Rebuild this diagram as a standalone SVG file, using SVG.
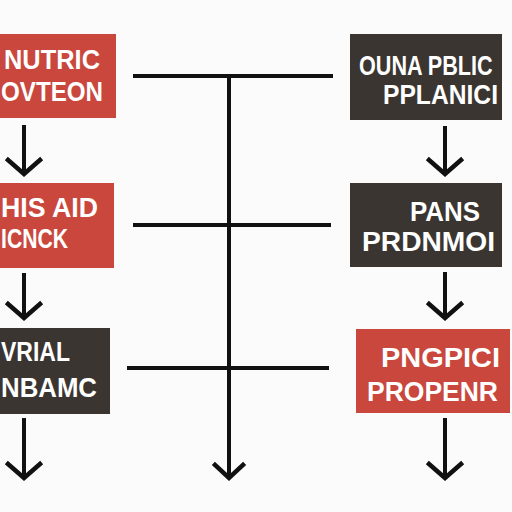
<svg xmlns="http://www.w3.org/2000/svg" width="512" height="512" viewBox="0 0 512 512">
<defs>
<style>
.red{fill:#c9473d}
.dark{fill:#3b3531}
.t{fill:#ffffff;font-family:"Liberation Sans",Arial,sans-serif;font-weight:bold;font-size:27px}
.ln{stroke:#111;stroke-width:4;fill:none}
.ah{stroke:#111;stroke-width:4.5;fill:none;stroke-linecap:square}
</style>
</defs>
<rect width="512" height="512" fill="#fbfbfb"/>
<g id="connectors">
<path class="ln" d="M133 76H333M229 76V478"/>
<path class="ln" d="M133 225H331"/>
<path class="ln" d="M127 368H329"/>
<path class="ah" d="M215 465L229 478L243 465"/>
<path class="ln" d="M24 125V174"/><path class="ah" d="M8 160L24 174L40 160"/>
<path class="ln" d="M24 273V318"/><path class="ah" d="M8 304L24 318L40 304"/>
<path class="ln" d="M24 418V478"/><path class="ah" d="M8 464L24 478L40 464"/>
<path class="ln" d="M445 126V174"/><path class="ah" d="M429 160L445 174L461 160"/>
<path class="ln" d="M445 272V318"/><path class="ah" d="M429 304L445 318L461 304"/>
<path class="ln" d="M445 418V478"/><path class="ah" d="M429 464L445 478L461 464"/>
</g>
<g id="node-l1">
<rect class="red" x="0" y="34" width="116" height="84"/>
<text class="t" x="4" y="69" textLength="96" lengthAdjust="spacingAndGlyphs">NUTRIC</text>
<text class="t" x="1" y="101" textLength="102" lengthAdjust="spacingAndGlyphs">OVTEON</text>
</g>
<g id="node-l2">
<rect class="red" x="0" y="183" width="114" height="85"/>
<text class="t" x="1" y="217" textLength="97" lengthAdjust="spacingAndGlyphs">HIS AID</text>
<text class="t" x="1" y="248" textLength="67" lengthAdjust="spacingAndGlyphs">ICNCK</text>
</g>
<g id="node-l3">
<rect class="dark" x="0" y="328" width="110" height="86"/>
<text class="t" x="1" y="361" textLength="69" lengthAdjust="spacingAndGlyphs">VRIAL</text>
<text class="t" x="1" y="397" textLength="96" lengthAdjust="spacingAndGlyphs">NBAMC</text>
</g>
<g id="node-r1">
<rect class="dark" x="350" y="34" width="152" height="86"/>
<text class="t" transform="translate(359 75) scale(0.8 1)" x="0" y="0">OUNA PBLIC</text>
<text class="t" x="383" y="104" textLength="115" lengthAdjust="spacingAndGlyphs">PPLANICI</text>
</g>
<g id="node-r2">
<rect class="dark" x="350" y="183" width="152" height="84"/>
<text class="t" x="410" y="221" textLength="70" lengthAdjust="spacingAndGlyphs">PANS</text>
<text class="t" x="362" y="251" textLength="133" lengthAdjust="spacingAndGlyphs">PRDNMOI</text>
</g>
<g id="node-r3">
<rect class="red" x="356" y="329" width="154" height="84"/>
<text class="t" x="381" y="367" textLength="119" lengthAdjust="spacingAndGlyphs">PNGPICI</text>
<text class="t" x="367" y="401" textLength="131" lengthAdjust="spacingAndGlyphs">PROPENR</text>
</g>
</svg>
